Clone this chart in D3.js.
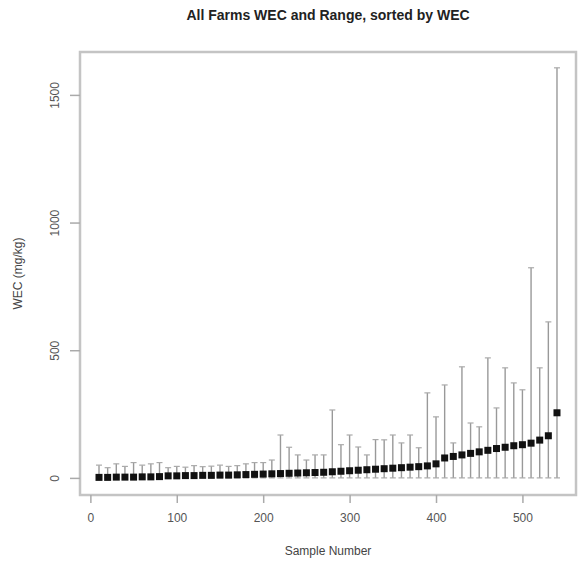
<!DOCTYPE html>
<html><head><meta charset="utf-8">
<script src="https://cdn.jsdelivr.net/npm/d3@7"></script>
<style>body{margin:0;background:#fff}</style>
</head><body>
<script>
const sampleNumber = [10,20,30,40,50,60,70,80,90,100,110,120,130,140,150,160,170,180,190,200,210,220,230,240,250,260,270,280,290,300,310,320,330,340,350,360,370,380,390,400,410,420,430,440,450,460,470,480,490,500,510,520,530,540];
const wec = [2,2,3,3,3,4,4,5,8,8,9,9,10,10,11,11,12,13,14,15,16,17,18,19,20,21,22,24,26,28,30,32,34,36,38,40,42,44,47,55,78,84,90,96,102,108,115,120,126,130,136,148,165,255];
const wecMax = [50,40,55,45,60,50,55,60,40,45,42,48,44,46,50,45,48,55,60,60,70,168,120,90,70,90,90,266,130,168,121,90,150,149,168,137,168,118,333,239,364,137,435,215,200,470,274,431,372,345,823,431,611,1606];
const wecMin = [0,0,0,0,0,0,0,0,0,0,0,0,0,0,0,0,0,0,0,0,0,0,0,0,0,0,0,0,0,0,0,0,0,0,0,0,0,0,0,0,0,0,0,0,0,0,0,0,0,0,0,0,0,0];
const xTicks = [0,100,200,300,400,500];
const yTicks = [0,500,1000,1500];

const W = 585, H = 563;
const m = {left:80, right:9, top:52, bottom:68};
const svg = d3.select("body").append("svg").attr("width",W).attr("height",H)
  .style("font-family","'Liberation Sans', Arial, sans-serif");

const x = d3.scaleLinear().domain([-12,562]).range([m.left, W-m.right]);
const y = d3.scaleLinear().domain([-67,1668]).range([H-m.bottom, m.top]);

// title
svg.append("text").attr("x",(m.left+W-m.right)/2).attr("y",20).attr("text-anchor","middle")
  .attr("font-size",14).attr("font-weight","bold").attr("fill","#222")
  .text("All Farms WEC and Range, sorted by WEC");

// range bars
const g = svg.append("g");
sampleNumber.forEach((s,i)=>{
  const cx = x(s);
  g.append("line").attr("x1",cx).attr("x2",cx).attr("y1",y(wecMin[i])).attr("y2",y(wecMax[i]))
    .attr("stroke","#999").attr("stroke-width",1.4);
  [wecMin[i], wecMax[i]].forEach(v=>{
    g.append("line").attr("x1",cx-3).attr("x2",cx+3).attr("y1",y(v)).attr("y2",y(v))
      .attr("stroke","#aaa").attr("stroke-width",1.2);
  });
});

// points
svg.append("g").selectAll("rect").data(sampleNumber).join("rect")
  .attr("x",d=>x(d)-3.5).attr("y",(d,i)=>y(wec[i])-3.5).attr("width",7).attr("height",7)
  .attr("fill","#111");

// box
svg.append("rect").attr("x",m.left).attr("y",m.top).attr("width",W-m.left-m.right)
  .attr("height",H-m.top-m.bottom).attr("fill","none").attr("stroke","#c4c4c4").attr("stroke-width",2.5);

// x axis
const xa = svg.append("g").attr("transform",`translate(0,${H-m.bottom})`)
  .call(d3.axisBottom(x).tickValues(xTicks).tickSize(8).tickPadding(10).tickFormat(d3.format("d")));
xa.select(".domain").attr("stroke","#c4c4c4").attr("stroke-width",2)
  .attr("d",`M${x(0)},0H${x(500)}`);
xa.selectAll(".tick line").attr("stroke","#aaa").attr("stroke-width",1.5);
xa.selectAll(".tick text").attr("font-size",12).attr("fill","#555").style("font-family","'Liberation Sans', Arial, sans-serif");

// y axis
const ya = svg.append("g").attr("transform",`translate(${m.left},0)`)
  .call(d3.axisLeft(y).tickValues(yTicks).tickSize(10).tickPadding(4).tickFormat(d3.format("d")));
ya.select(".domain").attr("stroke","#c4c4c4").attr("stroke-width",2)
  .attr("d",`M0,${y(0)}V${y(1500)}`);
ya.selectAll(".tick line").attr("stroke","#aaa").attr("stroke-width",1.5);
ya.selectAll(".tick text").attr("font-size",12).attr("fill","#555")
  .style("font-family","'Liberation Sans', Arial, sans-serif")
  .attr("text-anchor","middle").attr("x",0).attr("y",0)
  .attr("transform","translate(-25,0) rotate(-90)").attr("dy","0.35em");

// axis titles
svg.append("text").attr("x",(m.left+W-m.right)/2).attr("y",555).attr("text-anchor","middle")
  .attr("font-size",12).attr("fill","#444").text("Sample Number");
svg.append("text").attr("transform",`translate(22,${(m.top+H-m.bottom)/2}) rotate(-90)`)
  .attr("text-anchor","middle").attr("font-size",12).attr("fill","#444").text("WEC (mg/kg)");
</script>
</body></html>
